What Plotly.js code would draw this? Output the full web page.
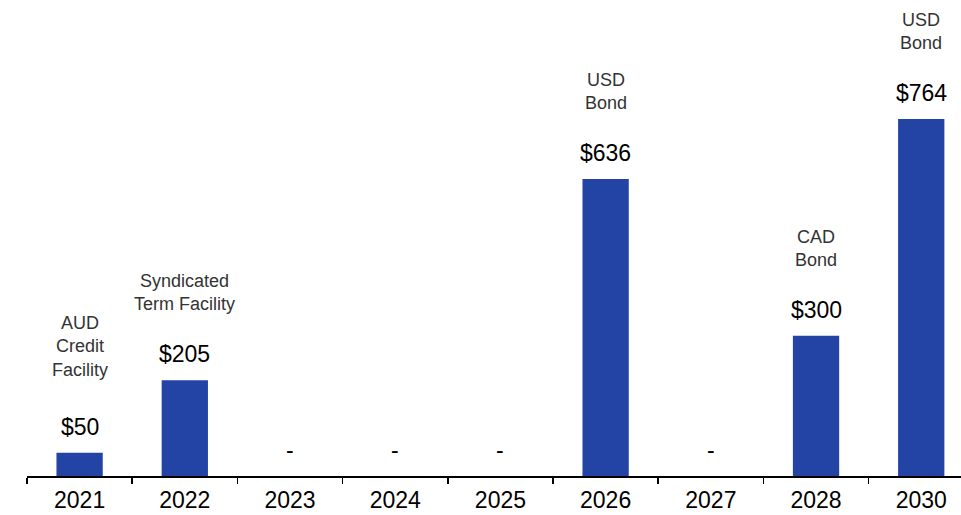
<!DOCTYPE html>
<html>
<head>
<meta charset="utf-8">
<script src="https://cdn.plot.ly/plotly-3.0.1.min.js"></script>
<style>html,body{margin:0;padding:0;background:#fff;}#chart{width:961px;height:515px;}</style>
</head>
<body>
<div id="chart"></div>
<script>
const categories = ['2021','2022','2023','2024','2025','2026','2027','2028','2030'];
const values = [50, 205, 0, 0, 0, 636, 0, 300, 764];
const valueLabels = ['$50','$205','-','-','-','$636','-','$300','$764'];
const descriptions = ['AUD<br>Credit<br>Facility','Syndicated<br>Term Facility','','','','USD<br>Bond','','CAD<br>Bond','USD<br>Bond'];

const FONT = 'Liberation Sans, Arial, sans-serif';
const BAR = '#2344A5';

const annotations = [];
categories.forEach((c, i) => {
  annotations.push({
    x: i, y: values[i], xref: 'x', yref: 'y',
    text: valueLabels[i], showarrow: false,
    yanchor: 'middle', yshift: 26,
    font: {family: FONT, size: 23, color: '#000'}
  });
  if (descriptions[i]) {
    const lines = descriptions[i].split('<br>').length;
    annotations.push({
      x: i, y: values[i], xref: 'x', yref: 'y',
      text: descriptions[i], showarrow: false,
      yanchor: 'bottom', yshift: lines > 2 ? 71 : 64,
      font: {family: FONT, size: 18, color: '#333'}
    });
  }
});

const trace = {
  type: 'bar', x: categories, y: values,
  marker: {color: BAR}, width: 0.44,
  hoverinfo: 'skip'
};

const layout = {
  width: 961, height: 515,
  margin: {l: 27, r: 0, t: 0, b: 39},
  paper_bgcolor: '#fff', plot_bgcolor: '#fff',
  showlegend: false,
  xaxis: {
    type: 'category', range: [-0.5, 8.378],
    showline: true, linecolor: '#000', linewidth: 1.5,
    ticks: 'outside', tickson: 'boundaries', ticklen: 6, tickwidth: 1.5, tickcolor: '#000',
    ticklabelstandoff: 3,
    showgrid: false, zeroline: false,
    tickfont: {family: FONT, size: 23, color: '#000'}
  },
  yaxis: {visible: false, range: [0, 1019], showgrid: false, zeroline: false},
  annotations: annotations
};

Plotly.newPlot('chart', [trace], layout, {displayModeBar: false, staticPlot: true});
</script>
</body>
</html>
